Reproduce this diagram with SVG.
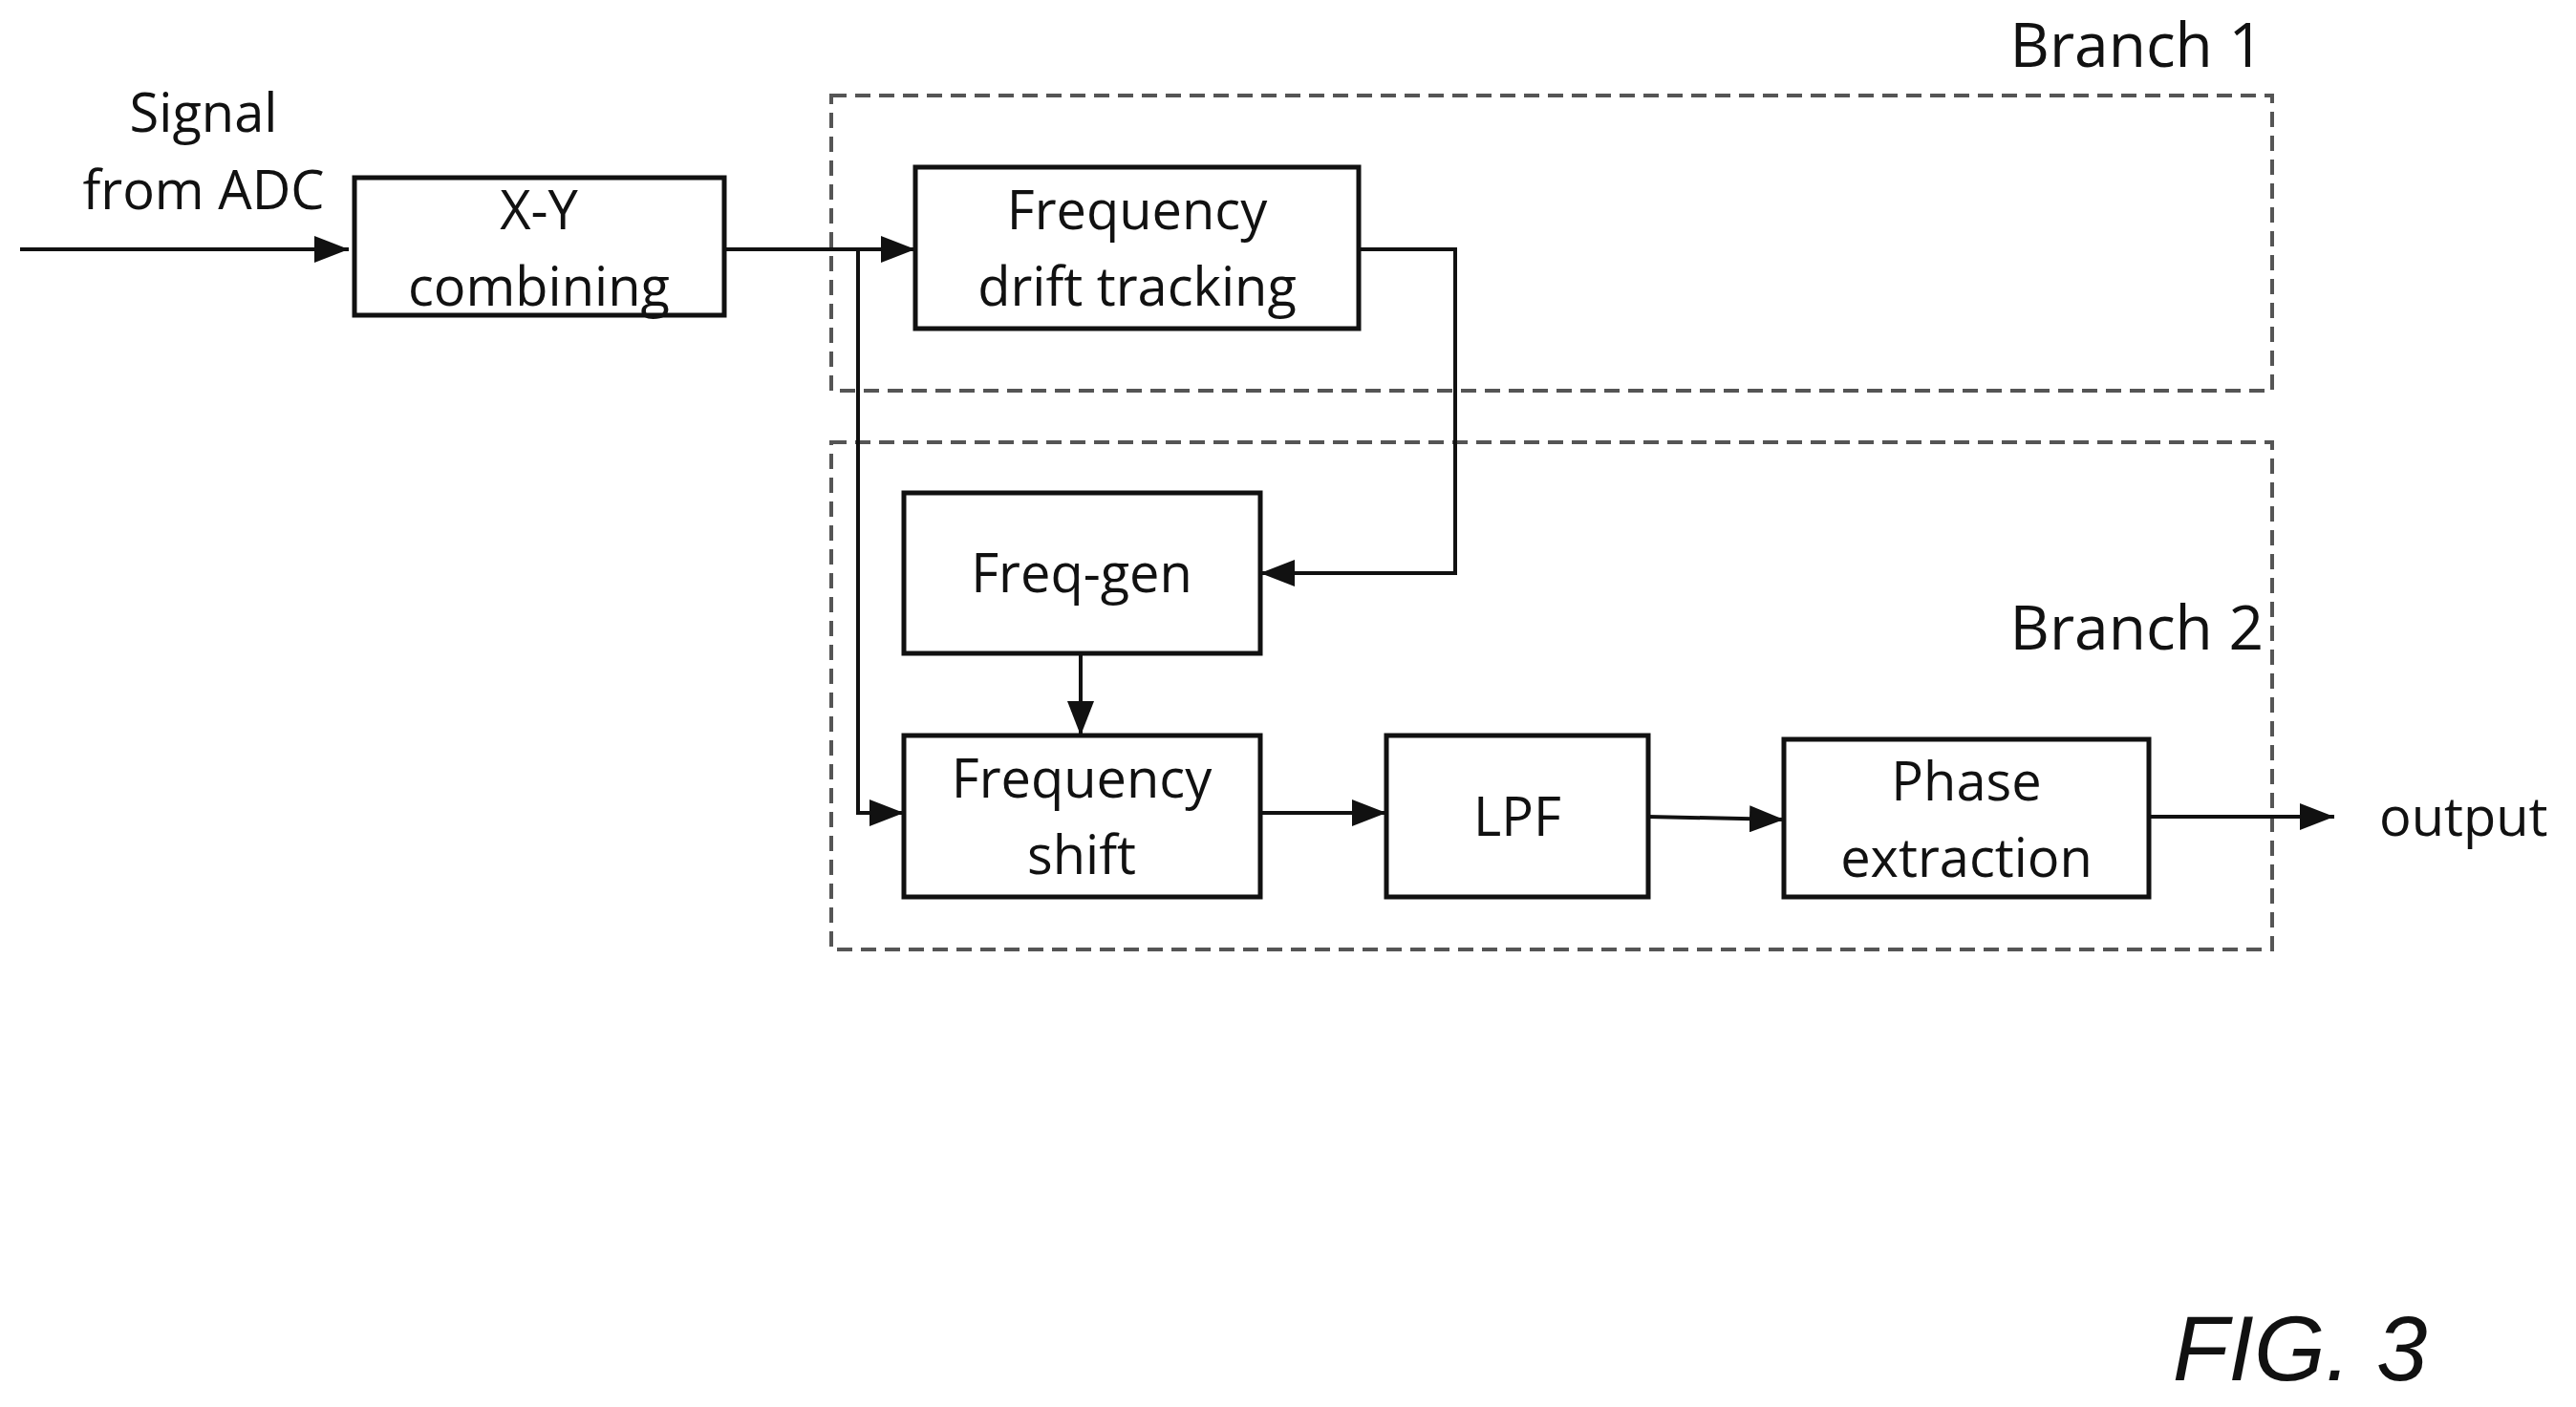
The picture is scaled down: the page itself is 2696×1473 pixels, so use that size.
<svg xmlns="http://www.w3.org/2000/svg" width="2696" height="1473" viewBox="0 0 2696 1473">
<style>
text{font-family:"Open Sans","Liberation Sans",sans-serif;font-size:56px;fill:#111;text-anchor:middle}
.box{fill:#fff;stroke:#111;stroke-width:5}
.dash{fill:none;stroke:#555;stroke-width:4;stroke-dasharray:16 9}
.ln{fill:none;stroke:#111;stroke-width:4}
</style>
<defs><marker id="a" viewBox="0 0 10 10" refX="10" refY="5" markerWidth="8" markerHeight="8" markerUnits="userSpaceOnUse" orient="auto"><path d="M0,0L10,5L0,10z" fill="#111"/></marker>
<marker id="b" viewBox="0 0 10 10" refX="10" refY="5" markerWidth="36" markerHeight="28" markerUnits="userSpaceOnUse" orient="auto" preserveAspectRatio="none"><path d="M0,0L10,5L0,10z" fill="#111"/></marker></defs>
<g id="branch1"><rect class="dash" x="870" y="100" width="1508" height="309"/><text x="2369" y="70" style="text-anchor:end;font-size:64px">Branch 1</text></g>
<g id="branch2"><rect class="dash" x="870" y="463" width="1508" height="531"/><text x="2369" y="680" style="text-anchor:end;font-size:64px">Branch 2</text></g>
<g id="connectors">
<path class="ln" d="M21,261H365" marker-end="url(#b)"/>
<path class="ln" d="M758,261H958" marker-end="url(#b)"/>
<path class="ln" d="M898,261V851H946" marker-end="url(#b)"/>
<path class="ln" d="M1422,261H1523V600H1319" marker-end="url(#b)"/>
<path class="ln" d="M1131,684V770" marker-end="url(#b)"/>
<path class="ln" d="M1319,851H1451" marker-end="url(#b)"/>
<path class="ln" d="M1725,855L1867,858" marker-end="url(#b)"/>
<path class="ln" d="M2249,855H2443" marker-end="url(#b)"/>
</g>
<g id="input"><text x="213" y="138">Signal</text><text x="213" y="219">from ADC</text></g>
<g id="xy"><rect class="box" x="371" y="186" width="387" height="144"/><text x="564" y="240">X-Y</text><text x="564" y="320">combining</text></g>
<g id="fdt"><rect class="box" x="958" y="175" width="464" height="169"/><text x="1190" y="240">Frequency</text><text x="1190" y="320">drift tracking</text></g>
<g id="freqgen"><rect class="box" x="946" y="516" width="373" height="168"/><text x="1132" y="620">Freq-gen</text></g>
<g id="fshift"><rect class="box" x="946" y="770" width="373" height="169"/><text x="1132" y="835">Frequency</text><text x="1132" y="915">shift</text></g>
<g id="lpf"><rect class="box" x="1451" y="770" width="274" height="169"/><text x="1588" y="875">LPF</text></g>
<g id="phase"><rect class="box" x="1867" y="774" width="382" height="165"/><text x="2058" y="838">Phase</text><text x="2058" y="918">extraction</text></g>
<g id="output"><text x="2490" y="875" style="text-anchor:start">output</text></g>
<text x="2407" y="1445" style="font-family:'Liberation Sans',sans-serif;font-style:italic;font-size:96px">FIG. 3</text>
</svg>
